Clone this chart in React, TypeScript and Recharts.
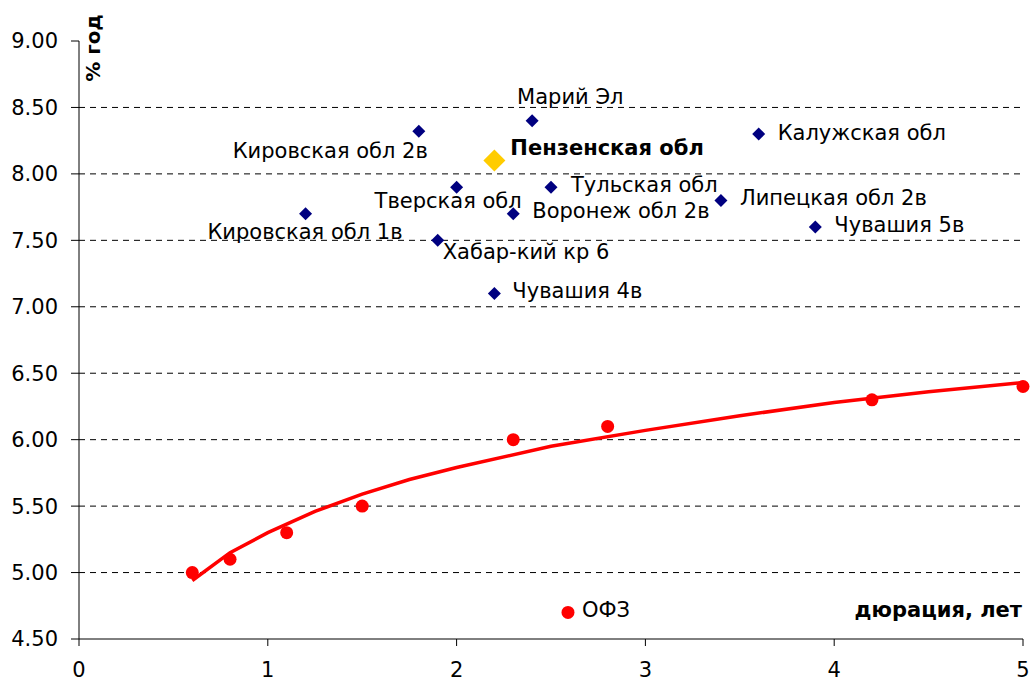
import React from 'react';
import { ComposedChart, Scatter, Line, XAxis, YAxis, ReferenceLine, Label } from 'recharts';

// ---- data ----
const xTicks = [0, 1, 2, 3, 4, 5];
const yTicks = [4.5, 5.0, 5.5, 6.0, 6.5, 7.0, 7.5, 8.0, 8.5, 9.0];
const gridValues = [5.0, 5.5, 6.0, 6.5, 7.0, 7.5, 8.0, 8.5];

const regionNames = [
  'Кировская обл 2в',
  'Кировская обл 1в',
  'Тверская обл',
  'Хабар-кий кр 6',
  'Марий Эл',
  'Тульская обл',
  'Воронеж обл 2в',
  'Чувашия 4в',
  'Калужская обл',
  'Липецкая обл 2в',
  'Чувашия 5в',
];
const regionDuration = [1.8, 1.2, 2.0, 1.9, 2.4, 2.5, 2.3, 2.2, 3.6, 3.4, 3.9];
const regionYield = [8.32, 7.7, 7.9, 7.5, 8.4, 7.9, 7.7, 7.1, 8.3, 7.8, 7.6];

const highlightNames = ['Пензенская обл'];
const highlightDuration = [2.2];
const highlightYield = [8.1];

const ofzDuration = [0.6, 0.8, 1.1, 1.5, 2.3, 2.8, 4.2, 5.0];
const ofzYield = [5.0, 5.1, 5.3, 5.5, 6.0, 6.1, 6.3, 6.4];

const ofzMarkerName = ['ОФЗ'];
const ofzMarkerDuration = [2.59];
const ofzMarkerYield = [4.7];

const trendDuration = [0.6, 0.8, 1.0, 1.25, 1.5, 1.75, 2.0, 2.5, 3.0, 3.5, 4.0, 4.5, 5.0];
const trendYield = [4.94, 5.15, 5.3, 5.46, 5.59, 5.7, 5.79, 5.95, 6.07, 6.18, 6.28, 6.36, 6.43];

const yAxisTitle = '% год';
const xAxisTitle = 'дюрация, лет';

// ---- built tables ----
const regionData = regionNames.map((name, i) => ({ name, x: regionDuration[i], y: regionYield[i] }));
const highlightData = highlightNames.map((name, i) => ({ name, x: highlightDuration[i], y: highlightYield[i] }));
const ofzData = ofzDuration.map((x, i) => ({ x, y: ofzYield[i] }));
const ofzMarkerData = ofzMarkerName.map((name, i) => ({ name, x: ofzMarkerDuration[i], y: ofzMarkerYield[i] }));
const trendData = trendDuration.map((x, i) => ({ x, y: trendYield[i] }));

// ---- label placement (style) ----
const labelPlacement: Record<string, { dx: number; dy: number; anchor: 'start' | 'end' }> = {
  'Кировская обл 2в': { dx: 9, dy: 27, anchor: 'end' },
  'Кировская обл 1в': { dx: 97, dy: 25, anchor: 'end' },
  'Тверская обл': { dx: -82, dy: 21, anchor: 'start' },
  'Хабар-кий кр 6': { dx: 5, dy: 19, anchor: 'start' },
  'Марий Эл': { dx: -15, dy: -17, anchor: 'start' },
  'Пензенская обл': { dx: 16, dy: -6, anchor: 'start' },
  'Тульская обл': { dx: 20, dy: 5, anchor: 'start' },
  'Воронеж обл 2в': { dx: 19, dy: 4, anchor: 'start' },
  'Липецкая обл 2в': { dx: 19, dy: 5, anchor: 'start' },
  'Калужская обл': { dx: 19, dy: 6, anchor: 'start' },
  'Чувашия 5в': { dx: 19, dy: 5, anchor: 'start' },
  'Чувашия 4в': { dx: 18, dy: 5, anchor: 'start' },
  'ОФЗ': { dx: 14, dy: 5, anchor: 'start' },
};

const FONT = '"DejaVu Sans", "Liberation Sans", Arial, sans-serif';
const FS = 21;

const PointLabel = ({ cx, cy, name, bold }: any) => {
  const p = labelPlacement[name];
  if (!p) return null;
  return (
    <text
      x={cx + p.dx}
      y={cy + p.dy}
      textAnchor={p.anchor}
      fontFamily={FONT}
      fontSize={FS}
      fontWeight={bold ? 'bold' : 'normal'}
      fill="#000"
    >
      {name}
    </text>
  );
};

const diamondShape = (half: number, fill: string, bold: boolean) => (props: any) => {
  const { cx, cy, payload } = props;
  if (cx == null || cy == null) return <g />;
  return (
    <g>
      <polygon
        points={`${cx},${cy - half} ${cx + half},${cy} ${cx},${cy + half} ${cx - half},${cy}`}
        fill={fill}
      />
      <PointLabel cx={cx} cy={cy} name={payload.name} bold={bold} />
    </g>
  );
};

const dotShape = (props: any) => {
  const { cx, cy, payload } = props;
  if (cx == null || cy == null) return <g />;
  return (
    <g>
      <circle cx={cx} cy={cy} r={6.5} fill="#FF0000" />
      {payload && payload.name ? <PointLabel cx={cx} cy={cy} name={payload.name} bold={false} /> : null}
    </g>
  );
};

export default function App() {
  return (
    <div style={{ position: 'absolute', left: 0, top: 0, width: 1031, height: 682, background: '#fff' }}>
      <ComposedChart
        width={1031}
        height={682}
        margin={{ top: 41, right: 8, bottom: 0, left: 0 }}
        style={{ overflow: 'visible' }}
      >
        {gridValues.map((v) => (
          <ReferenceLine key={v} y={v} stroke="#000" strokeDasharray="6 5" strokeWidth={1} ifOverflow="visible" />
        ))}
        <XAxis
          type="number"
          dataKey="x"
          domain={[0, 5]}
          ticks={xTicks}
          height={43}
          tickSize={7}
          tickMargin={16}
          stroke="#000"
          tick={{ fill: '#000', fontSize: FS, fontFamily: FONT }}
          tickLine={{ stroke: '#000' }}
        >
          <Label
            content={() => (
              <text
                x={1022}
                y={617}
                textAnchor="end"
                fontFamily={FONT}
                fontSize={FS}
                fontWeight="bold"
                fill="#000"
              >
                {xAxisTitle}
              </text>
            )}
          />
        </XAxis>
        <YAxis
          type="number"
          dataKey="y"
          domain={[4.5, 9]}
          ticks={yTicks}
          width={79}
          tickSize={8}
          tickMargin={13}
          stroke="#000"
          tickFormatter={(v: number) => v.toFixed(2)}
          tick={{ fill: '#000', fontSize: FS, fontFamily: FONT }}
          tickLine={{ stroke: '#000' }}
        >
          <Label
            content={() => (
              <text
                x={100}
                y={48}
                transform="rotate(-90 100 48)"
                textAnchor="middle"
                fontFamily={FONT}
                fontSize={20}
                fontWeight="bold"
                fill="#000"
              >
                {yAxisTitle}
              </text>
            )}
          />
        </YAxis>
        <Line
          data={trendData}
          dataKey="y"
          type="linear"
          stroke="#FF0000"
          strokeWidth={3.5}
          dot={false}
          activeDot={false}
          isAnimationActive={false}
        />
        <Scatter data={ofzData} dataKey="y" shape={dotShape} isAnimationActive={false} />
        <Scatter data={ofzMarkerData} dataKey="y" shape={dotShape} isAnimationActive={false} />
        <Scatter data={regionData} dataKey="y" shape={diamondShape(6.5, '#000080', false)} isAnimationActive={false} />
        <Scatter data={highlightData} dataKey="y" shape={diamondShape(11, '#FFCC00', true)} isAnimationActive={false} />
      </ComposedChart>
    </div>
  );
}
